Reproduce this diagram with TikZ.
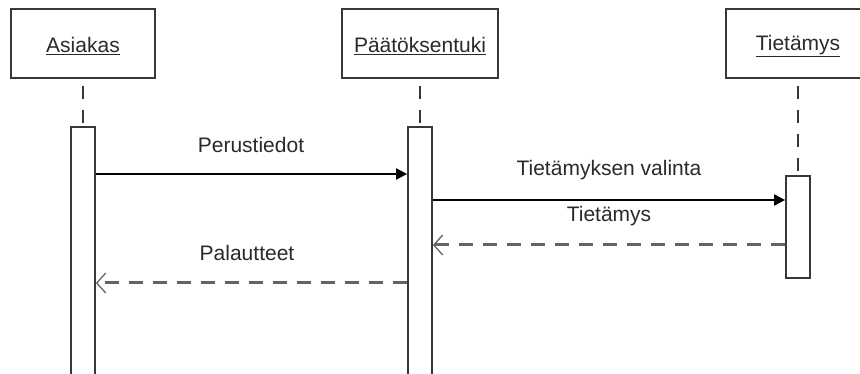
\documentclass[tikz,border=0pt]{standalone}
\usepackage{fontspec}
\setmainfont{Liberation Sans}
\usetikzlibrary{arrows.meta}
\definecolor{boxline}{HTML}{383838}
\definecolor{txt}{HTML}{2A2A2A}
\definecolor{dashgray}{HTML}{656565}
\tikzset{
  objbox/.style={draw=boxline, line width=2pt, fill=white, inner sep=0pt},
  actbar/.style={draw=boxline, line width=1.7pt, fill=white, inner sep=0pt, minimum width=24pt},
  lifeline/.style={draw=boxline, line width=1.8pt, dash pattern=on 13pt off 11pt},
  callmsg/.style={draw=black, line width=1.8pt, -{Triangle[length=11pt,width=11pt]}},
  retmsg/.style={draw=dashgray, line width=3pt, dash pattern=on 14pt off 10pt, -{Straight Barb[length=9pt,width=20pt,line width=1.3pt]}},
  lbl/.style={text=txt, font=\fontsize{21}{24}\selectfont, inner sep=1pt},
}
\begin{document}
\begin{tikzpicture}[x=1pt,y=-1pt]
\clip (0,0) rectangle (860,374);
\fill[white] (0,0) rectangle (860,374);
% object boxes
\node[objbox, minimum width=144pt, minimum height=69pt] (asi) at (83,44) {};
\node[objbox, minimum width=156pt, minimum height=69pt] (paa) at (420,44) {};
\node[objbox, minimum width=144pt, minimum height=69pt] (tie) at (798,44) {};
\node[lbl] (asiT) at (83,46) {\underline{Asiakas}};
\node[lbl] (paaT) at (420,46) {\underline{Päätöksentuki}};
\node[lbl] (tieT) at (798,46) {\underline{Tietämys}};
% activation bars
\node[actbar, minimum height=250pt, anchor=north] (asiA) at (83,126) {};
\node[actbar, minimum height=250pt, anchor=north] (paaA) at (420,126) {};
\node[actbar, minimum height=102pt, anchor=north] (tieA) at (798,175) {};
% lifelines
\draw[lifeline] (asi.south) ++(0,7) coordinate (asiL) -- (asiA.north);
\draw[lifeline] (paa.south) ++(0,7) coordinate (paaL) -- (paaA.north);
\draw[lifeline] (tie.south) ++(0,7) coordinate (tieL) -- (tieA.north);
% message coordinates
\coordinate (m1a) at (asiA.east |- 0,174);
\coordinate (m1b) at (paaA.west |- 0,174);
\coordinate (m2a) at (paaA.east |- 0,200);
\coordinate (m2b) at (tieA.west |- 0,200);
\coordinate (m3a) at (tieA.west |- 0,245);
\coordinate (m3b) at (paaA.east |- 0,245);
\coordinate (m4a) at (paaA.west |- 0,283);
\coordinate (m4b) at (asiA.east |- 0,283);
% messages
\draw[callmsg] (m1a) -- (m1b);
\draw[callmsg] (m2a) -- (m2b);
\draw[retmsg] (m3a) -- (m3b);
\draw[retmsg] (m4a) -- (m4b);
% labels
\node[lbl] (l1) at (251,145) {Perustiedot};
\node[lbl] (l2) at (609,170) {Tietämyksen valinta};
\node[lbl] (l3) at (609,216) {Tietämys};
\node[lbl] (l4) at (247,253) {Palautteet};
\end{tikzpicture}
\end{document}
